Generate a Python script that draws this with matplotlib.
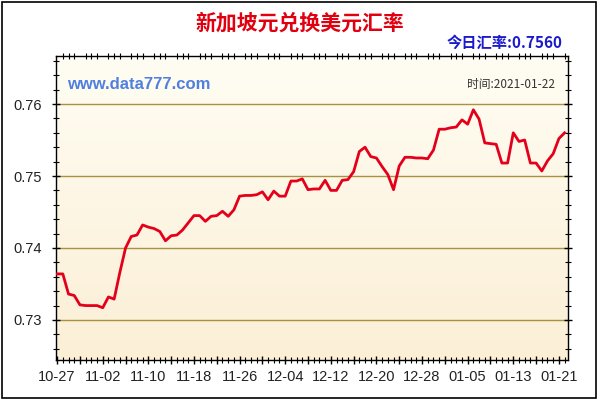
import numpy as np
import matplotlib
matplotlib.use("Agg")
import matplotlib.pyplot as plt
from matplotlib.patches import Rectangle
from matplotlib.ticker import MultipleLocator, FixedLocator

plt.rcParams["font.family"] = ["Noto Sans CJK SC", "DejaVu Sans"]

# daily rate, one value per trading day (10-27 .. 01-22)
rates = [
    0.7364, 0.7364, 0.7336, 0.7334, 0.7321, 0.7320, 0.7320, 0.7320, 0.7317, 0.7332,
    0.7329, 0.7366, 0.7400, 0.7416, 0.7418, 0.7432, 0.7429, 0.7427, 0.7423, 0.7410,
    0.7417, 0.7418, 0.7425, 0.7435, 0.7445, 0.7445, 0.7437, 0.7444, 0.7445, 0.7451,
    0.7444, 0.7453, 0.7472, 0.7473, 0.7473, 0.7474, 0.7478, 0.7467, 0.7479, 0.7472,
    0.7472, 0.7493, 0.7493, 0.7496, 0.7481, 0.7482, 0.7482, 0.7494, 0.7480, 0.7480,
    0.7494, 0.7495, 0.7506, 0.7534, 0.7540, 0.7527, 0.7525, 0.7513, 0.7502, 0.7481,
    0.7514, 0.7526, 0.7526, 0.7525, 0.7525, 0.7524, 0.7536, 0.7565, 0.7565, 0.7567,
    0.7568, 0.7578, 0.7572, 0.7592, 0.7579, 0.7546, 0.7545, 0.7544, 0.7518, 0.7518,
    0.7560, 0.7548, 0.7550, 0.7518, 0.7518, 0.7507, 0.7521, 0.7531, 0.7552, 0.7560,
]
date_labels = ["10-27", "11-02", "11-10", "11-18", "11-26", "12-04",
               "12-12", "12-20", "12-28", "01-05", "01-13", "01-21"]
y_ticks = [0.73, 0.74, 0.75, 0.76]

title = "新加坡元兑换美元汇率"
today_text = "今日汇率:0.7560"
site_text = "www.data777.com"
time_text = "时间:2021-01-22"

fig = plt.figure(figsize=(6, 4), dpi=100)
fig.patch.set_facecolor("white")

# outer frame
fig.add_artist(Rectangle((0.004, 0.006), 0.99, 0.988, transform=fig.transFigure,
                         fill=False, edgecolor="black", linewidth=1.2))

ax = fig.add_axes([0.0933, 0.10, 0.8534, 0.76])

x = np.arange(len(rates))
ax.set_xlim(-0.2, 89.6)
ax.set_ylim(0.72444, 0.76667)

# cream gradient background
grad = np.linspace(0, 1, 256).reshape(-1, 1)
cmap = matplotlib.colors.LinearSegmentedColormap.from_list(
    "cream", ["#fffdf3", "#fbefd6"])
ax.imshow(grad, aspect="auto", cmap=cmap, extent=(0, 1, 0, 1),
          transform=ax.transAxes, zorder=0)

for yv in y_ticks:
    ax.axhline(yv, color="#a8913f", linewidth=1.0, zorder=1)

ax.plot(x, rates, color="#e4001a", linewidth=2.0, zorder=3)

# y axis
ax.yaxis.set_major_locator(FixedLocator(y_ticks))
ax.yaxis.set_minor_locator(MultipleLocator(0.002))
ax.set_yticklabels([f"{v:.2f}" for v in y_ticks])

# x axis: a tick per day, longer every 4, label every 8
major_pos = list(range(0, len(rates), 4))
ax.xaxis.set_major_locator(FixedLocator(major_pos))
ax.xaxis.set_minor_locator(MultipleLocator(1))
labels = []
for p in major_pos:
    if p % 8 == 0 and p // 8 < len(date_labels):
        labels.append(date_labels[p // 8])
    else:
        labels.append("")
ax.set_xticklabels(labels)

ax.tick_params(axis="both", which="major", direction="inout", length=6,
               width=1, labelsize=10.5, colors="black", labelcolor="#222222")
ax.tick_params(axis="both", which="minor", direction="inout", length=4, width=0.8)
ax.tick_params(axis="x", which="both", top=True)
ax.tick_params(axis="x", which="major", top=False)
ax.tick_params(axis="x", which="minor", top=True)
ax.tick_params(axis="y", which="both", right=True)
ax.tick_params(axis="x", which="major", pad=4)
ax.tick_params(axis="y", which="major", pad=7)
for lab in ax.get_xticklabels() + ax.get_yticklabels():
    lab.set_family(["Liberation Sans", "DejaVu Sans"])

for s in ax.spines.values():
    s.set_color("black")
    s.set_linewidth(1)

# texts
fig.text(0.5, 0.943, title, ha="center", va="center", color="#e00010",
         fontsize=15, fontweight="bold")
fig.text(0.938, 0.893, today_text, ha="right", va="center", color="#1a1acc",
         fontsize=11, fontweight="bold")
ax.text(0.022, 0.905, site_text, transform=ax.transAxes, ha="left", va="center",
        color="#4f7fe0", fontsize=12, fontweight="bold",
        family=["Liberation Sans", "DejaVu Sans"])
ax.text(0.975, 0.905, time_text, transform=ax.transAxes, ha="right", va="center",
        color="#333333", fontsize=8.5)

fig.savefig("out.png", dpi=100)
